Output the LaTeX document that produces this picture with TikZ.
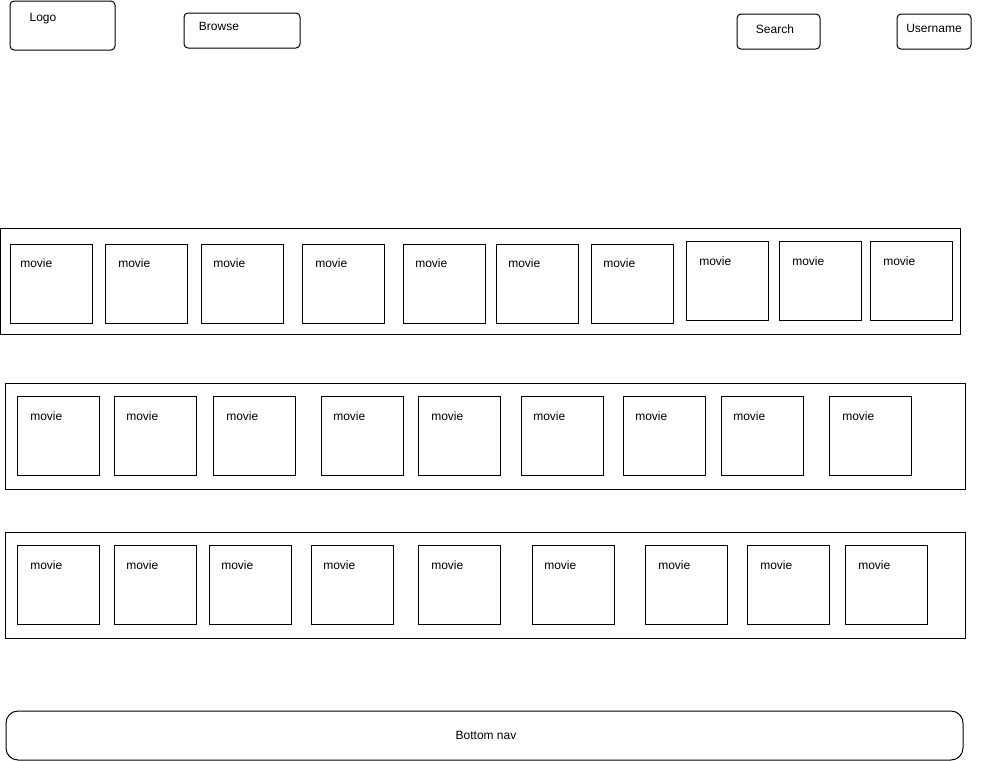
\documentclass[tikz,border=0pt]{standalone}
\usepackage{fontspec}
\setmainfont{Liberation Sans}
\begin{document}
\begin{tikzpicture}[x=0.75pt,y=-0.75pt,
  box/.style={draw=black,line width=0.75pt},
  btn/.style={draw=black,line width=0.75pt,rounded corners=3pt},
  navbox/.style={draw=black,line width=0.75pt,rounded corners=9pt},
  lbl/.style={inner sep=0pt,font=\fontsize{9}{11}\selectfont},
  mlbl/.style={lbl,anchor=west}]
\useasboundingbox (0,0) rectangle (1004,761);
\fill[white] (0,0) rectangle (1004,761);
% header
\draw[btn] (10,1) rectangle (115,50);
\node[lbl] (logo) at (43,18.5) {Logo};
\draw[btn] (184,13) rectangle (300,48);
\node[lbl] (browse) at (219,26.5) {Browse};
\draw[btn] (737,14) rectangle (820,49);
\node[lbl] (search) at (775,29.5) {Search};
\draw[btn] (897,14) rectangle (971,49);
\node[lbl] (user) at (934,28.5) {Username};
% row 1
\draw[box] (0,228) rectangle (960,334);
\foreach \x/\t [count=\i] in {10/20,105/118,201/213,302/315,403/415,496/508,591/603}{
  \draw[box] (\x,244) rectangle (\x+82,323);
  \node[mlbl] (ra\i) at (\t,263.5) {movie};
}
\foreach \x/\t [count=\i] in {686/699,779/792,870/883}{
  \draw[box] (\x,241) rectangle (\x+82,320);
  \node[mlbl] (rb\i) at (\t,261.5) {movie};
}
% row 2
\draw[box] (5,383) rectangle (965,489);
\foreach \x/\t [count=\i] in {17/30,114/126,213/226,321/333,418/431,521/533,623/635,721/733,829/842}{
  \draw[box] (\x,396) rectangle (\x+82,475);
  \node[mlbl] (rc\i) at (\t,416.5) {movie};
}
% row 3
\draw[box] (5,532) rectangle (965,638);
\foreach \x/\t [count=\i] in {17/30,114/126,209/221,311/323,418/431,532/544,645/658,747/760,845/858}{
  \draw[box] (\x,545) rectangle (\x+82,624);
  \node[mlbl] (rd\i) at (\t,565.5) {movie};
}
% bottom nav
\draw[navbox] (6,711) rectangle (963,760);
\node[lbl] (nav) at (486,735.5) {Bottom nav};
\end{tikzpicture}
\end{document}
